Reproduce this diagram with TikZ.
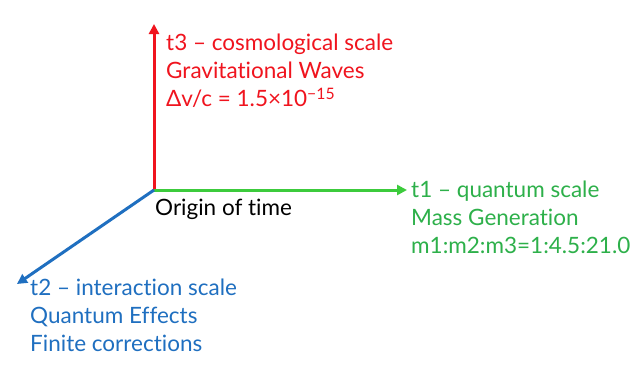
\documentclass[tikz,border=0pt]{standalone}
\usepackage{fontspec}
\setmainfont{Lato}[Ligatures={NoCommon,NoRequired,NoContextual}]
\usetikzlibrary{arrows.meta}
\definecolor{axred}{HTML}{F0141E}
\definecolor{axgreen}{HTML}{3CCB3C}
\definecolor{txtgreen}{HTML}{2DB04A}
\definecolor{axblue}{HTML}{1F6FC0}
\begin{document}
\begin{tikzpicture}[x=1pt,y=-1pt,
  axis/.style={line width=3pt,-{Triangle[length=10pt,width=10pt]}},
  lbl/.style={anchor=north west,inner sep=0pt,align=left,font=\fontsize{22.5}{28}\selectfont}]
\useasboundingbox[fill=white] (0,0) rectangle (642,368);
\coordinate (o) at (154,190);
\coordinate (t3) at (154,24);
\coordinate (t1) at (407,190);
\coordinate (t2) at (17,284);
\draw[axis,axred] (o) -- (t3);
\draw[axis,axgreen] (o) -- (t1);
\draw[axis,axblue] (o) -- (t2);
\node[lbl,text=axred] (l3) at (166,34) {t3 – cosmological scale\\Gravitational Waves\\Δv/c = 1.5×10\textsuperscript{−15}};
\node[lbl,text=txtgreen] (l1) at (411,181) {t1 – quantum scale\\Mass Generation\\m1:m2:m3=1:4.5:21.0};
\node[lbl,text=axblue] (l2) at (30,279) {t2 – interaction scale\\Quantum Effects\\Finite corrections};
\node[lbl,text=black] (lo) at (155,199) {Origin of time};
\end{tikzpicture}
\end{document}
